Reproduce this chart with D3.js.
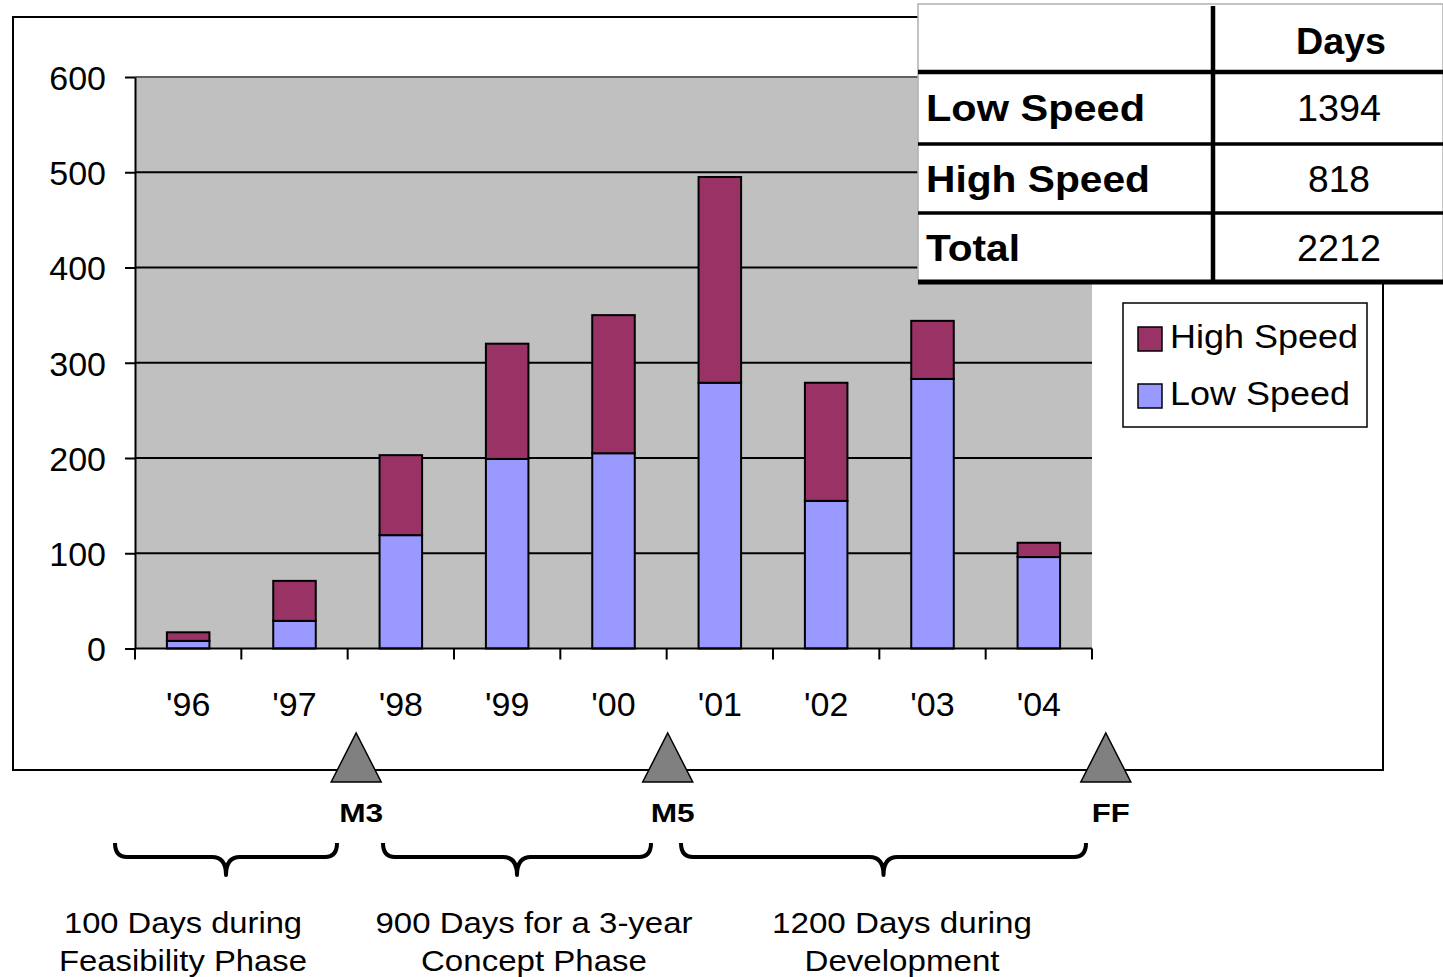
<!DOCTYPE html>
<html>
<head>
<meta charset="utf-8">
<script src="https://cdn.jsdelivr.net/npm/d3@7"></script>
<style>
  html, body { margin: 0; padding: 0; background: #fff; }
  svg { display: block; }
  text { font-family: "Liberation Sans", Arial, sans-serif; fill: #000; }
</style>
</head>
<body>
<svg id="chart" width="1443" height="977"></svg>
<script>
// Days of testing per year, split by speed class
const years = ["'96", "'97", "'98", "'99", "'00", "'01", "'02", "'03", "'04"];
const lowSpeed  = [8, 29, 119, 199, 205, 279, 155, 283, 96];
const highSpeed = [9, 42, 84, 121, 145, 216, 124, 61, 15];
const yTicks = [0, 100, 200, 300, 400, 500, 600];

// Summary table
const tableRows = ["Low Speed", "High Speed", "Total"];
const tableDays = [1394, 818, 2212];

// Program milestones (position measured in year slots along the axis)
const milestones = ["M3", "M5", "FF"];
const milestoneAt = [2.08, 5.01, 9.13];

// Phase annotations
const phaseLines = [
  ["100 Days during", "Feasibility Phase"],
  ["900 Days for a 3-year", "Concept Phase"],
  ["1200 Days during", "Development"]
];

const colors = { high: "#993366", low: "#9999FF", plot: "#C0C0C0" };

const svg = d3.select("#chart");
const plot = { left: 135, right: 1092, top: 77, bottom: 648.5 };

const x = d3.scaleBand().domain(years).range([plot.left, plot.right]).padding(0);
const y = d3.scaleLinear().domain([0, 600]).range([plot.bottom, plot.top]);
const slot = d3.scaleLinear().domain([0, years.length]).range([plot.left, plot.right]);

// Text width helper: stretch a label horizontally to a set width
function fitWidth(sel, w) {
  sel.attr("textLength", w).attr("lengthAdjust", "spacingAndGlyphs");
}

// Outer frame
svg.append("rect")
  .attr("x", 13).attr("y", 17).attr("width", 1370).attr("height", 753)
  .attr("fill", "none").attr("stroke", "#000").attr("stroke-width", 2);

// Plot area
svg.append("rect")
  .attr("x", plot.left).attr("y", plot.top)
  .attr("width", plot.right - plot.left).attr("height", plot.bottom - plot.top)
  .attr("fill", colors.plot);

// Gridlines
svg.append("g").selectAll("line")
  .data(yTicks.filter(d => d > 0))
  .join("line")
  .attr("x1", plot.left).attr("x2", plot.right)
  .attr("y1", d => y(d)).attr("y2", d => y(d))
  .attr("stroke", d => d === 600 ? "#606060" : "#000")
  .attr("stroke-width", 2);

// Stacked bars
const stackData = years.map((yr, i) => ({ year: yr, low: lowSpeed[i], high: highSpeed[i] }));
const series = d3.stack().keys(["low", "high"])(stackData);
const barW = x.bandwidth() * 0.4;

svg.append("g").selectAll("g")
  .data(series)
  .join("g")
  .attr("fill", s => colors[s.key])
  .selectAll("rect")
  .data(s => s)
  .join("rect")
  .attr("x", d => x(d.data.year) + (x.bandwidth() - barW) / 2)
  .attr("width", barW)
  .attr("y", d => y(d[1]))
  .attr("height", d => y(d[0]) - y(d[1]))
  .attr("stroke", "#000")
  .attr("stroke-width", 2);

// Y axis
const yAxis = svg.append("g")
  .attr("transform", `translate(${plot.left},0)`)
  .call(d3.axisLeft(y).tickValues(yTicks).tickSize(10).tickPadding(19).tickSizeOuter(0));
yAxis.select(".domain").attr("stroke", "#000").attr("stroke-width", 2);
yAxis.selectAll(".tick line").attr("stroke", "#000").attr("stroke-width", 2);
yAxis.selectAll(".tick text")
  .attr("font-size", 34).attr("font-family", "Liberation Sans, Arial, sans-serif")
  .attr("fill", "#000").attr("dy", "0.36em");

// X axis: ticks at slot boundaries, labels centred in each slot
const xAxisG = svg.append("g");
xAxisG.append("line")
  .attr("x1", plot.left).attr("x2", plot.right)
  .attr("y1", plot.bottom).attr("y2", plot.bottom)
  .attr("stroke", "#000").attr("stroke-width", 2);
xAxisG.selectAll("line.tk")
  .data(d3.range(years.length + 1))
  .join("line").attr("class", "tk")
  .attr("x1", d => slot(d)).attr("x2", d => slot(d))
  .attr("y1", plot.bottom).attr("y2", plot.bottom + 11)
  .attr("stroke", "#000").attr("stroke-width", 2);
xAxisG.selectAll("text")
  .data(years)
  .join("text")
  .attr("x", d => x(d) + x.bandwidth() / 2)
  .attr("y", 716)
  .attr("text-anchor", "middle")
  .attr("font-size", 34)
  .text(d => d);

// Legend
const legend = svg.append("g");
legend.append("rect")
  .attr("x", 1123).attr("y", 303).attr("width", 244).attr("height", 124)
  .attr("fill", "#fff").attr("stroke", "#000").attr("stroke-width", 1.5);
const legendItems = [
  { key: "high", label: "High Speed", w: 188 },
  { key: "low", label: "Low Speed", w: 180 }
];
legendItems.forEach((it, i) => {
  const cy = 339 + i * 57;
  legend.append("rect")
    .attr("x", 1138).attr("y", cy - 12).attr("width", 24).attr("height", 24)
    .attr("fill", colors[it.key]).attr("stroke", "#000").attr("stroke-width", 1.5);
  legend.append("text")
    .attr("x", 1170).attr("y", cy + 9)
    .attr("font-size", 34)
    .call(fitWidth, it.w)
    .text(it.label);
});

// Summary table
const tbl = svg.append("g");
const tblX0 = 918, tblX1 = 1443, colX = 1213;
const rowLines = [72, 144, 213, 282];
tbl.append("rect")
  .attr("x", tblX0).attr("y", 4).attr("width", tblX1 - tblX0).attr("height", 278)
  .attr("fill", "#fff").attr("stroke", "#b0b0b0").attr("stroke-width", 1.5);
tbl.selectAll("line.row")
  .data(rowLines)
  .join("line").attr("class", "row")
  .attr("x1", tblX0).attr("x2", tblX1)
  .attr("y1", d => d).attr("y2", d => d)
  .attr("stroke", "#000")
  .attr("stroke-width", (d, i) => i === 0 ? 4.5 : i === 3 ? 5 : 3.5);
tbl.append("line")
  .attr("x1", colX).attr("x2", colX).attr("y1", 6).attr("y2", 283)
  .attr("stroke", "#000").attr("stroke-width", 4.5);
tbl.append("text")
  .attr("x", 1341).attr("y", 54)
  .attr("text-anchor", "middle")
  .attr("font-family", "DejaVu Sans, sans-serif")
  .attr("font-weight", "bold").attr("font-size", 36)
  .call(fitWidth, 90)
  .text("Days");
const rowLabelW = [219, 224, 94];
tbl.selectAll("text.lbl")
  .data(tableRows)
  .join("text").attr("class", "lbl")
  .attr("x", 926)
  .attr("y", (d, i) => (rowLines[i] + rowLines[i + 1]) / 2 + 13)
  .attr("font-family", "DejaVu Sans, sans-serif")
  .attr("font-weight", "bold").attr("font-size", 36)
  .attr("textLength", (d, i) => rowLabelW[i]).attr("lengthAdjust", "spacingAndGlyphs")
  .text(d => d);
tbl.selectAll("text.val")
  .data(tableDays)
  .join("text").attr("class", "val")
  .attr("x", 1339)
  .attr("y", (d, i) => (rowLines[i] + rowLines[i + 1]) / 2 + 13)
  .attr("text-anchor", "middle")
  .attr("font-family", "DejaVu Sans, sans-serif")
  .attr("font-weight", 300)
  .attr("font-size", 36)
  .attr("textLength", d => String(d).length === 3 ? 62 : 84).attr("lengthAdjust", "spacingAndGlyphs")
  .text(d => d);

// Milestone markers on the timeline
const msWidth = [44, 44, 38];
const ms = svg.append("g");
milestones.forEach((m, i) => {
  const cx = slot(milestoneAt[i]);
  ms.append("path")
    .attr("d", `M${cx},733 L${cx + 25},782 L${cx - 25},782 Z`)
    .attr("fill", "#808080").attr("stroke", "#000").attr("stroke-width", 1.5);
  ms.append("text")
    .attr("x", cx + 5).attr("y", 822)
    .attr("text-anchor", "middle")
    .attr("font-weight", "bold").attr("font-size", 25)
    .call(fitWidth, msWidth[i])
    .text(m);
});

// Phase braces
const braces = [
  { x1: 115, x2: 337, tx: 183, w: [238, 248] },
  { x1: 383, x2: 651, tx: 534, w: [317, 226] },
  { x1: 681, x2: 1086, tx: 902, w: [260, 195] }
];
const yTop = 843, yMid = 857, yTip = 875, q = 12, qt = 14;
braces.forEach((b, i) => {
  const xt = (b.x1 + b.x2) / 2;
  const d = `M${b.x1},${yTop} Q${b.x1},${yMid} ${b.x1 + q},${yMid} L${xt - qt},${yMid} ` +
            `Q${xt},${yMid} ${xt},${yTip} Q${xt},${yMid} ${xt + qt},${yMid} ` +
            `L${b.x2 - q},${yMid} Q${b.x2},${yMid} ${b.x2},${yTop}`;
  svg.append("path").attr("d", d)
    .attr("fill", "none").attr("stroke", "#000").attr("stroke-width", 4)
    .attr("stroke-linejoin", "round");
  phaseLines[i].forEach((line, j) => {
    svg.append("text")
      .attr("x", b.tx).attr("y", 933 + j * 38)
      .attr("text-anchor", "middle")
      .attr("font-size", 30)
      .call(fitWidth, b.w[j])
      .text(line);
  });
});
</script>
</body>
</html>
